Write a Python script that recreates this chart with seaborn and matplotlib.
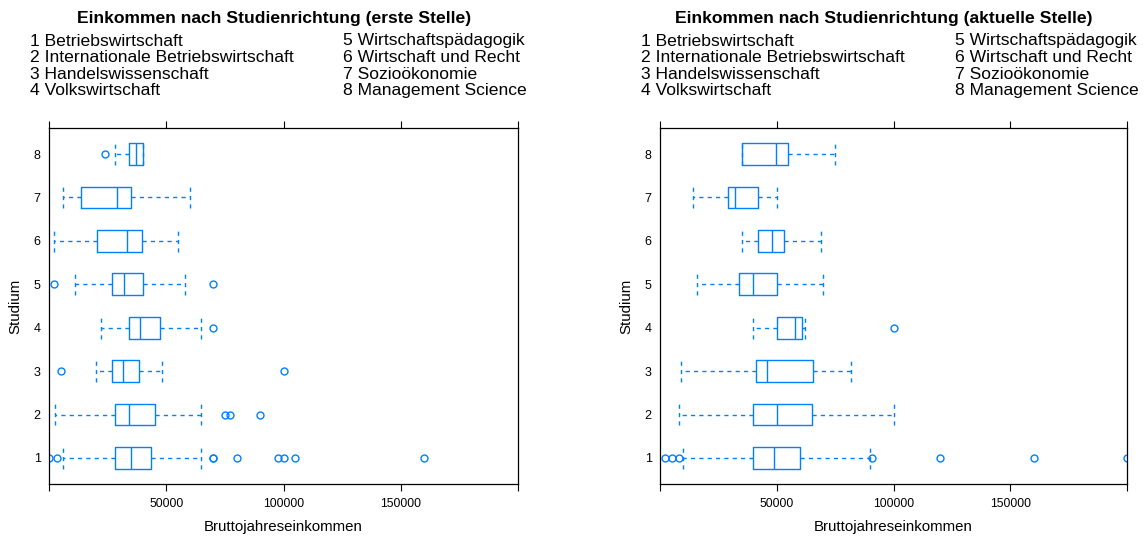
import matplotlib
matplotlib.use("Agg")
import matplotlib.pyplot as plt
import seaborn as sns

sns.set_theme(style="white")
plt.rcParams['font.family'] = ['Liberation Sans', 'DejaVu Sans']

# ---------------- data ----------------
categories = ["1", "2", "3", "4", "5", "6", "7", "8"]
study_names = ["1 Betriebswirtschaft", "2 Internationale Betriebswirtschaft",
               "3 Handelswissenschaft", "4 Volkswirtschaft",
               "5 Wirtschaftspädagogik", "6 Wirtschaft und Recht",
               "7 Sozioökonomie", "8 Management Science"]

titles = ["Einkommen nach Studienrichtung (erste Stelle)",
          "Einkommen nach Studienrichtung (aktuelle Stelle)"]

# erste Stelle
first_whislo = [6000, 2500, 20000, 22000, 11000, 2000, 6000, 28000]
first_q1     = [28000, 28000, 26700, 34000, 27000, 20500, 13500, 34000]
first_med    = [35000, 34000, 31500, 39000, 32000, 33300, 28800, 37000]
first_q3     = [43300, 45000, 38500, 47500, 40000, 39500, 35000, 40000]
first_whishi = [65000, 65000, 48000, 65000, 58000, 55000, 60000, 40000]
first_fliers = [[0, 3500, 70000, 70000, 80000, 97500, 100000, 105000, 160000],
                [75000, 77000, 90000],
                [5000, 100000],
                [70000],
                [2000, 70000],
                [], [],
                [24000]]

# aktuelle Stelle
cur_whislo = [10000, 8000, 9000, 40000, 16000, 35000, 14000, 35000]
cur_q1     = [40000, 40000, 41000, 50000, 34000, 42000, 29000, 35000]
cur_med    = [49000, 50000, 46000, 58000, 40000, 48000, 32000, 49500]
cur_q3     = [60000, 65000, 65500, 61000, 50000, 53000, 42000, 55000]
cur_whishi = [90000, 100000, 82000, 62000, 70000, 69000, 50000, 75000]
cur_fliers = [[2000, 5000, 8000, 91000, 120000, 160000, 200000],
              [], [],
              [100000],
              [], [], [], []]

xticks = [0, 50000, 100000, 150000, 200000]
xticklabels = ["", "50000", "100000", "150000", ""]

BLUE = "#0080ff"
W, H = 1147, 538


def make_stats(lo, q1, med, q3, hi, fl):
    return [dict(whislo=a, q1=b, med=c, q3=d, whishi=e, fliers=f, label=lab)
            for a, b, c, d, e, f, lab in zip(lo, q1, med, q3, hi, fl, categories)]


def draw(ax, stats):
    kw = dict(positions=list(range(1, len(categories) + 1)), widths=0.5,
              capwidths=0.5, showfliers=True, patch_artist=False,
              boxprops=dict(color=BLUE, lw=1.0),
              whiskerprops=dict(color=BLUE, lw=1.0, linestyle=(0, (3, 3))),
              capprops=dict(color=BLUE, lw=1.0, linestyle=(0, (3, 3))),
              medianprops=dict(color=BLUE, lw=1.0),
              flierprops=dict(marker='o', markerfacecolor='none',
                              markeredgecolor=BLUE, markersize=5,
                              markeredgewidth=1.0, linestyle='none'))
    try:
        ax.bxp(stats, orientation='horizontal', **kw)
    except TypeError:
        ax.bxp(stats, vert=False, **kw)
    ax.set_xlim(0, 200000)
    ax.set_ylim(0.4, 8.6)
    ax.set_xticks(xticks)
    ax.set_xticklabels(xticklabels)
    ax.set_yticks(list(range(1, len(categories) + 1)))
    ax.set_yticklabels(categories)
    ax.tick_params(axis='x', which='both', direction='out', length=5, width=0.8,
                   color='black', top=True, bottom=True, labeltop=False,
                   labelsize=8.8, pad=5, labelcolor='black')
    ax.tick_params(axis='y', length=0, labelsize=9, pad=6, labelcolor='black')
    for s in ax.spines.values():
        s.set_visible(True)
        s.set_color('black')
        s.set_linewidth(0.9)
    ax.set_xlabel("Bruttojahreseinkommen", fontsize=10.8, labelpad=7, color='black')
    ax.set_ylabel("Studium", fontsize=10.8, labelpad=8, color='black')
    ax.grid(False)
    ax.set_facecolor('white')


fig = plt.figure(figsize=(W / 100, H / 100), dpi=100)
fig.patch.set_facecolor('white')

ax1 = fig.add_axes([49 / W, 54 / H, 469 / W, 356 / H])
ax2 = fig.add_axes([660 / W, 54 / H, 467 / W, 356 / H])

draw(ax1, make_stats(first_whislo, first_q1, first_med, first_q3, first_whishi, first_fliers))
draw(ax2, make_stats(cur_whislo, cur_q1, cur_med, cur_q3, cur_whishi, cur_fliers))

# titles and keys
title_cx = [274, 884]
col1_x = [30, 641]
col2_x = [343, 955]
row_y = [41, 57.7, 74.3, 91]
for p in range(2):
    fig.text(title_cx[p] / W, 1 - 18 / H, titles[p], ha='center', va='center',
             fontsize=12.6, fontweight='bold', color='black')
    for i, name in enumerate(study_names):
        x = col1_x[p] if i < 4 else col2_x[p]
        y = row_y[i % 4]
        fig.text(x / W, 1 - y / H, name, ha='left', va='center',
                 fontsize=12.6, color='black')

fig.savefig("out.png", dpi=100, facecolor='white')
